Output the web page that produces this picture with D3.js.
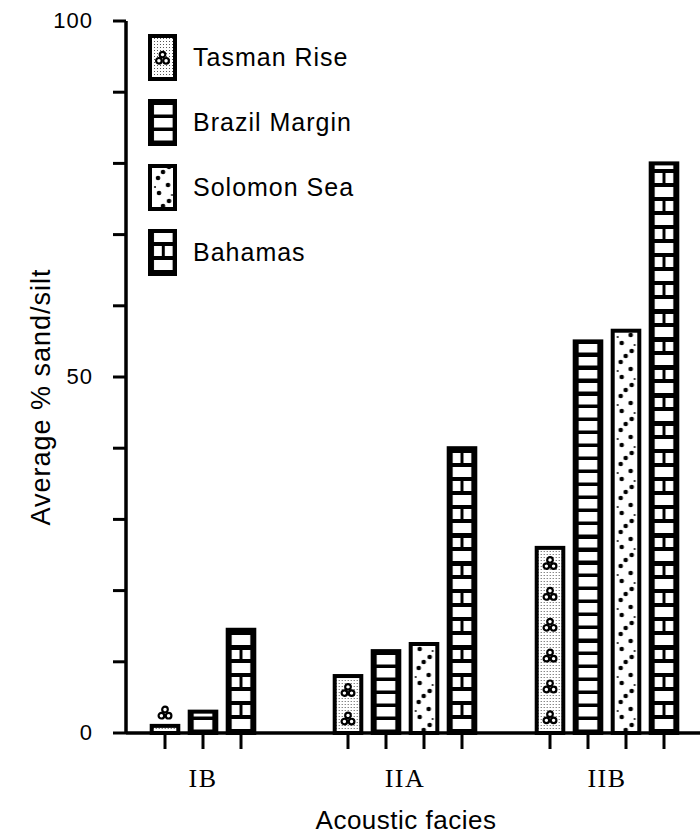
<!DOCTYPE html>
<html>
<head>
<meta charset="utf-8">
<script src="https://cdn.jsdelivr.net/npm/d3@7/dist/d3.min.js"></script>
<style>
body { margin: 0; background: #fff; }
text { font-family: "Liberation Sans", Arial, sans-serif; fill: #000; }
.cat { font-family: "Liberation Serif", "Times New Roman", serif; font-size: 26px; letter-spacing: 1.5px; }
</style>
</head>
<body>
<div id="chart"></div>
<script>

// values
var facies = ["IB", "IIA", "IIB"];
var series = ["Tasman Rise", "Brazil Margin", "Solomon Sea", "Bahamas"];
var tasman = [1, 8, 26];
var brazil = [3, 11.5, 55];
var solomon = [null, 12.5, 56.5];
var bahamas = [14.5, 40, 80];
var yTicks = [0, 50, 100];

var width = 700, height = 836;

var svg = d3.select("#chart").append("svg")
    .attr("width", width)
    .attr("height", height);

var y = d3.scaleLinear().domain([0, 100]).range([733, 21]);
var x = d3.scaleBand().domain(facies).range([102, 708]);

var values = { "Tasman Rise": tasman, "Brazil Margin": brazil, "Solomon Sea": solomon, "Bahamas": bahamas };

// one inner band scale per group, only for the series that have a bar
var groups = facies.map(function(f, i) {
  var present = series.filter(function(s) { return values[s][i] != null; });
  var inner = d3.scaleBand().domain(present)
      .range([-present.length * 19, present.length * 19])
      .paddingInner(0.3).paddingOuter(0.15);
  return { facies: f, i: i, inner: inner, bars: present.map(function(s) { return { series: s, value: values[s][i] }; }) };
});

var bw = groups[2].inner.bandwidth();

// patterns
var defs = svg.append("defs");

var pBrazil = defs.append("pattern").attr("id", "p-brazil")
    .attr("patternUnits", "userSpaceOnUse").attr("width", bw).attr("height", 13);
pBrazil.append("rect").attr("width", bw).attr("height", 13).attr("fill", "#000");
pBrazil.append("rect").attr("x", 4).attr("y", 0).attr("width", bw - 8).attr("height", 9.5).attr("fill", "#fff");

var pBahamas = defs.append("pattern").attr("id", "p-bahamas")
    .attr("patternUnits", "userSpaceOnUse").attr("width", bw).attr("height", 28);
pBahamas.append("rect").attr("width", bw).attr("height", 28).attr("fill", "#000");
pBahamas.append("rect").attr("x", 4).attr("y", 0).attr("width", bw / 2 - 5.5).attr("height", 10).attr("fill", "#fff");
pBahamas.append("rect").attr("x", bw / 2 + 1.5).attr("y", 0).attr("width", bw / 2 - 5.5).attr("height", 10).attr("fill", "#fff");
pBahamas.append("rect").attr("x", 4).attr("y", 14).attr("width", bw - 8).attr("height", 10).attr("fill", "#fff");

var pSolomon = defs.append("pattern").attr("id", "p-solomon")
    .attr("patternUnits", "userSpaceOnUse").attr("width", bw).attr("height", 34);
pSolomon.append("rect").attr("width", bw).attr("height", 34).attr("fill", "#fff");
[[8, 3], [18, 10], [9, 18], [19, 26], [13, 31], [5, 12], [22, 20]].forEach(function(p, k) {
  pSolomon.append("circle").attr("cx", p[0]).attr("cy", p[1]).attr("r", k > 4 ? 1 : 2.3).attr("fill", "#000");
});

var pTasman = defs.append("pattern").attr("id", "p-tasman")
    .attr("patternUnits", "userSpaceOnUse").attr("width", 3).attr("height", 3);
pTasman.append("rect").attr("width", 3).attr("height", 3).attr("fill", "#fff");
pTasman.append("rect").attr("x", 1).attr("y", 1).attr("width", 1).attr("height", 1).attr("fill", "#555");

var fills = { "Tasman Rise": "url(#p-tasman)", "Brazil Margin": "url(#p-brazil)", "Solomon Sea": "url(#p-solomon)", "Bahamas": "url(#p-bahamas)" };

function trefoil(sel) {
  [[0, -3.4], [-3.6, 2.8], [3.6, 2.8]].forEach(function(c) {
    sel.append("circle").attr("cx", c[0]).attr("cy", c[1]).attr("r", 2.8)
      .attr("fill", "#fff").attr("stroke", "#000").attr("stroke-width", 2.2);
  });
}

// bars
var g = svg.selectAll(".group")
  .data(groups)
  .enter().append("g")
    .attr("class", "group")
    .attr("transform", function(d) { return "translate(" + (x(d.facies) + x.bandwidth() / 2) + ",0)"; });

var bar = g.selectAll(".bar")
  .data(function(d) { return d.bars.map(function(b) { b.inner = d.inner; return b; }); })
  .enter().append("g")
    .attr("class", "bar")
    .attr("transform", function(d) { return "translate(" + d.inner(d.series) + "," + y(0) + ")"; });

bar.append("rect")
    .attr("x", 0)
    .attr("y", function(d) { return y(d.value) - y(0); })
    .attr("width", bw)
    .attr("height", function(d) { return y(0) - y(d.value); })
    .attr("fill", function(d) { return fills[d.series]; })
    .attr("stroke", "#000")
    .attr("stroke-width", 4);

// Tasman Rise symbols
bar.filter(function(d) { return d.series == "Tasman Rise"; })
  .each(function(d) {
    var h = y(0) - y(d.value);
    var n = Math.floor(h / 28);
    var sel = d3.select(this);
    if (n < 1) {
      trefoil(sel.append("g").attr("transform", "translate(" + bw / 2 + "," + (-h - 13) + ")"));
    } else {
      d3.range(n).forEach(function(k) {
        trefoil(sel.append("g").attr("transform", "translate(" + bw / 2 + "," + (-h * (k + 0.5) / n) + ")"));
      });
    }
  });

// x ticks under each bar
bar.append("line")
    .attr("x1", bw / 2).attr("x2", bw / 2)
    .attr("y1", 0).attr("y2", 16)
    .attr("stroke", "#000").attr("stroke-width", 3);

// axes
svg.append("line")
    .attr("x1", 126).attr("x2", width)
    .attr("y1", y(0)).attr("y2", y(0))
    .attr("stroke", "#000").attr("stroke-width", 3.5);

svg.append("line")
    .attr("x1", 126).attr("x2", 126)
    .attr("y1", y(100)).attr("y2", y(0))
    .attr("stroke", "#000").attr("stroke-width", 3.5);

svg.selectAll(".ytick")
  .data(d3.range(0, 101, 10))
  .enter().append("line")
    .attr("x1", 113).attr("x2", 126)
    .attr("y1", function(d) { return y(d); })
    .attr("y2", function(d) { return y(d); })
    .attr("stroke", "#000").attr("stroke-width", 3);

svg.selectAll(".ylab")
  .data(yTicks)
  .enter().append("text")
    .attr("x", 93)
    .attr("y", function(d) { return y(d) + 7; })
    .attr("text-anchor", "end")
    .style("font-size", "22px")
    .style("letter-spacing", "1px")
    .text(function(d) { return d; });

svg.selectAll(".cat")
  .data(facies)
  .enter().append("text")
    .attr("class", "cat")
    .attr("x", function(d) { return x(d) + x.bandwidth() / 2; })
    .attr("y", 787)
    .attr("text-anchor", "middle")
    .text(function(d) { return d; });

svg.append("text")
    .attr("x", 406)
    .attr("y", 829)
    .attr("text-anchor", "middle")
    .style("font-size", "26px")
    .style("letter-spacing", "0.5px")
    .text("Acoustic facies");

svg.append("text")
    .attr("transform", "translate(50,397) rotate(-90)")
    .attr("text-anchor", "middle")
    .style("font-size", "27px")
    .style("letter-spacing", "1px")
    .text("Average % sand/silt");

// legend
var legend = svg.selectAll(".legend")
  .data(series)
  .enter().append("g")
    .attr("class", "legend")
    .attr("transform", function(d, i) { return "translate(150," + (79 + i * 65) + ")"; });

legend.append("rect")
    .attr("x", 0).attr("y", -43)
    .attr("width", 25).attr("height", 43)
    .attr("fill", function(d) { return fills[d]; })
    .attr("stroke", "#000")
    .attr("stroke-width", 4);

legend.filter(function(d) { return d == "Tasman Rise"; })
  .each(function() { trefoil(d3.select(this).append("g").attr("transform", "translate(12.5,-21)")); });

legend.append("text")
    .attr("x", 43)
    .attr("y", -13)
    .style("font-size", "25px")
    .style("letter-spacing", "1px")
    .text(function(d) { return d; });

</script>
</body>
</html>
